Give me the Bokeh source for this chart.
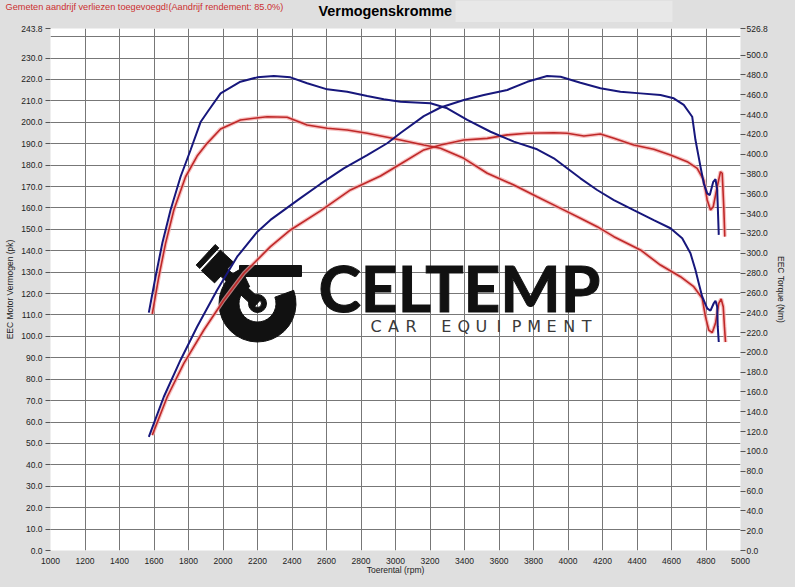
from bokeh.plotting import figure
from bokeh.layouts import column
from bokeh.models import Range1d, LinearAxis, FixedTicker, PrintfTickFormatter
from bokeh.core.properties import value
from bokeh.embed import file_html
from bokeh.resources import INLINE

# ---------------- data ----------------
# Blue torque curve (Nm, right axis)
rpm_tq_blue = [1570, 1609, 1648, 1696, 1754, 1812, 1870, 1918, 1986, 2101, 2198, 2295, 2391, 2488, 2604,
               2720, 2836, 2932, 3029, 3203, 3300, 3416, 3551, 3686, 3821, 3918, 3995, 4072, 4169, 4266,
               4381, 4497, 4594, 4662, 4710, 4739, 4758, 4778, 4807, 4826, 4845, 4855, 4865, 4868, 4874]
nm_tq_blue = [240.0, 276.3, 310.0, 343.6, 377.2, 404.2, 432.4, 444.5, 461.4, 473.1, 477.5, 478.9, 477.5, 471.5, 465.4,
              463.0, 458.7, 455.3, 452.9, 451.3, 446.3, 434.5, 422.6, 412.6, 404.9, 395.8, 385.7, 375.6, 363.8, 353.7,
              343.6, 333.5, 325.2, 315.1, 299.9, 283.1, 269.7, 256.1, 244.4, 242.0, 249.5, 252.1, 246.0, 225.9, 210.4]

# Red torque curve (Nm, right axis)
rpm_tq_red = [1590, 1628, 1667, 1715, 1783, 1850, 1908, 1986, 2101, 2256, 2372, 2488, 2604, 2720, 2836,
              2952, 3029, 3164, 3261, 3396, 3532, 3686, 3821, 3957, 4072, 4169, 4266, 4420, 4536, 4652,
              4729, 4778, 4797, 4816, 4836, 4855, 4874, 4888, 4900, 4907, 4913]
nm_tq_red = [238.7, 276.3, 310.0, 343.6, 377.2, 398.1, 410.9, 425.4, 434.5, 437.8, 437.2, 429.4, 426.1, 424.4, 421.0,
             417.0, 414.3, 409.2, 405.9, 395.8, 380.7, 368.9, 357.0, 345.3, 335.3, 326.8, 316.7, 303.3, 288.1, 276.3,
             266.2, 254.5, 236.0, 222.5, 219.8, 229.3, 249.5, 253.8, 246.0, 225.9, 210.4]

# Blue power curve (pk, left axis)
rpm_pw_blue = [1570, 1657, 1754, 1850, 1966, 2082, 2198, 2275, 2449, 2565, 2700, 2836, 2952, 3029, 3164,
               3261, 3396, 3512, 3648, 3764, 3879, 3957, 4072, 4188, 4304, 4420, 4536, 4613, 4671, 4720,
               4739, 4768, 4787, 4807, 4822, 4842, 4855, 4865, 4874]
pk_pw_blue = [53.1, 71.8, 89.0, 104.5, 121.7, 137.2, 148.8, 154.4, 164.6, 171.2, 178.5, 184.7, 190.2, 195.0, 202.9,
              206.9, 210.4, 212.7, 215.1, 218.9, 221.6, 221.3, 218.5, 215.9, 214.3, 213.5, 212.7, 211.2, 208.1, 202.6,
              191.7, 179.3, 171.5, 166.8, 166.0, 172.2, 173.4, 168.4, 147.4]

# Red power curve (pk, left axis)
rpm_pw_red = [1590, 1677, 1773, 1889, 2005, 2121, 2275, 2391, 2565, 2739, 2913, 3029, 3164, 3261, 3396,
              3532, 3648, 3764, 3918, 3995, 4092, 4188, 4266, 4381, 4497, 4594, 4691, 4749, 4787, 4807,
              4826, 4842, 4865, 4884, 4894, 4903, 4909]
pk_pw_red = [53.9, 71.8, 87.4, 103.0, 117.0, 129.5, 141.9, 149.7, 158.6, 168.4, 174.9, 180.5, 187.1, 189.4, 191.7,
             192.5, 194.1, 194.9, 195.1, 194.9, 193.6, 194.5, 192.5, 189.4, 187.4, 184.7, 181.6, 178.5, 173.0, 163.7,
             159.0, 160.6, 169.9, 176.9, 176.2, 160.6, 146.6]

# ticks
rpm_ticks = list(range(1000, 5001, 200))
pk_grid = list(range(0, 241, 10))
pk_ticks = [float(v) for v in range(0, 231, 10)] + [243.8]
nm_ticks = [float(v) for v in range(0, 501, 20)] + [526.8]

TITLE = "Vermogenskromme"
SUBTITLE = "Gemeten aandrijf verliezen toegevoegd!(Aandrijf rendement: 85.0%)"

# ---------------- styling ----------------
BG = "#dfdfdf"
BLUE = "#17177c"
RED = "#bf2828"
HALO = "#f3a7a7"
GRID = "#777777"
FONT = "Liberation Sans"

W = 795
HEAD_H = 22                 # header strip with title and note
H = 565                     # chart below it
FL, FR, FT, FB = 50, 55, 6, 37

# ---------------- header strip ----------------
t = figure(width=W, height=HEAD_H, x_range=Range1d(0, W), y_range=Range1d(HEAD_H, 0),
           output_backend="svg", toolbar_location=None, title_location=None,
           x_axis_location=None, y_axis_location=None, min_border=0,
           background_fill_color=BG, border_fill_color=BG, outline_line_color=None)
t.grid.visible = False
t.quad(left=[455], right=[672], top=[0], bottom=[HEAD_H], color="#e8e8e8", line_color=None)
t.text(x=[318], y=[10], text=[TITLE], text_font=value(FONT), text_font_style="bold",
       text_font_size="14.4px", text_color="black", text_align="left", text_baseline="middle")
t.text(x=[5], y=[6], text=[SUBTITLE], text_font=value(FONT), text_font_size="9.2px",
       text_color="#cc2f2f", text_align="left", text_baseline="middle")

# ---------------- chart ----------------
p = figure(width=W, height=H, x_range=Range1d(1000, 5000), y_range=Range1d(0, 243.8),
           output_backend="svg", toolbar_location=None, title_location=None,
           min_border_left=FL, min_border_right=FR, min_border_top=FT, min_border_bottom=FB,
           background_fill_color="white", border_fill_color=BG, outline_line_color=None)
p.extra_y_ranges = {"nm": Range1d(0, 526.8)}

# do not align the header's frame with the chart's frame
for fig in (t, p):
    try:
        fig.frame_align = False
    except Exception:
        pass

# helpers to place the logo (page pixel -> data position); frame spans x 50..740, y 28..550
def px_x(px):
    return 1000 + (px - FL) * 4000.0 / (W - FL - FR)

def px_y(py):
    return (550 - py) * 243.8 / 522

# grid
p.xgrid.ticker = FixedTicker(ticks=rpm_ticks)
p.ygrid.ticker = FixedTicker(ticks=pk_grid)
for g in (p.xgrid[0], p.ygrid[0]):
    g.grid_line_color = GRID
    g.grid_line_width = 1
    g.grid_line_alpha = 1.0

# x axis
xa = p.below[0]
xa.ticker = FixedTicker(ticks=rpm_ticks)
xa.axis_label = "Toerental (rpm)"
xa.axis_line_color = None
xa.major_tick_line_color = None
xa.minor_tick_line_color = None
xa.major_tick_out = 0
xa.major_tick_in = 0
xa.major_label_standoff = 7
xa.axis_label_standoff = -2

# left axis
ya = p.left[0]
ya.ticker = FixedTicker(ticks=pk_ticks)
ya.formatter = PrintfTickFormatter(format="%.1f")
ya.axis_label = "EEC Motor Vermogen (pk)"
ya.major_label_standoff = 3
ya.axis_label_standoff = 3

# right axis
ra = LinearAxis(y_range_name="nm", ticker=FixedTicker(ticks=nm_ticks),
                formatter=PrintfTickFormatter(format="%.1f"), axis_label="EEC Torque (Nm)")
ra.major_label_standoff = 1
ra.axis_label_standoff = 5
p.add_layout(ra, "right")

for ax in (ya, ra):
    ax.axis_line_color = None
    ax.major_tick_line_color = "#555555"
    ax.major_tick_out = 5
    ax.major_tick_in = 0
    ax.minor_tick_line_color = None

for ax in (xa, ya, ra):
    ax.major_label_text_font = FONT
    ax.major_label_text_font_size = "8.5px"
    ax.major_label_text_color = "#222222"
    ax.axis_label_text_font = FONT
    ax.axis_label_text_font_size = "8.5px"
    ax.axis_label_text_font_style = "normal"
    ax.axis_label_text_color = "#222222"

# ---------------- CELTEMP logo (watermark) ----------------
INK = "#111111"
cx, cy = 257, 303
p.annular_wedge(x=[px_x(cx)], y=[px_y(cy)], inner_radius=18.5, outer_radius=38.5,
                inner_radius_units="screen", outer_radius_units="screen",
                start_angle=115, end_angle=20, start_angle_units="deg", end_angle_units="deg",
                direction="anticlock", color=INK)
p.rect(x=[px_x(270)], y=[px_y(270.5)], width=62, height=11,
       width_units="screen", height_units="screen", color=INK)
p.annular_wedge(x=[px_x(cx)], y=[px_y(cy)], inner_radius=4, outer_radius=9,
                inner_radius_units="screen", outer_radius_units="screen",
                start_angle=0, end_angle=360, start_angle_units="deg", end_angle_units="deg", color=INK)
ang = -0.747
p.rect(x=[px_x(237)], y=[px_y(284.5)], width=54, height=10, angle=ang,
       width_units="screen", height_units="screen", color=INK)
p.rect(x=[px_x(217)], y=[px_y(266)], width=18, height=28, angle=ang,
       width_units="screen", height_units="screen", color=INK)
p.rect(x=[px_x(207)], y=[px_y(256)], width=5, height=28, angle=ang,
       width_units="screen", height_units="screen", color=INK)
p.text(x=[px_x(318)], y=[px_y(287)], text=["CELTEMP"], text_font=value("Lato"),
       text_font_style="bold", text_font_size="64px", text_color=INK, text_outline_color=INK,
       text_align="left", text_baseline="alphabetic")
sub = "CAR EQUIPMENT"
step = (595 - 366.7) / len(sub)
lx = [px_x(366.7 + step * (i + 0.5)) for i, ch in enumerate(sub) if ch != " "]
lt = [ch for ch in sub if ch != " "]
p.text(x=lx, y=[px_y(326)] * len(lt), text=lt, text_font=value("DejaVu Sans"),
       text_font_size="16px", text_color="#3a3a3a", text_align="center", text_baseline="alphabetic")

# ---------------- curves ----------------
p.line(rpm_pw_red, pk_pw_red, line_color=HALO, line_width=4, line_alpha=0.7)
p.line(rpm_tq_red, nm_tq_red, y_range_name="nm", line_color=HALO, line_width=4, line_alpha=0.7)
p.line(rpm_pw_red, pk_pw_red, line_color=RED, line_width=1.6)
p.line(rpm_tq_red, nm_tq_red, y_range_name="nm", line_color=RED, line_width=1.6)
p.line(rpm_pw_blue, pk_pw_blue, line_color=BLUE, line_width=2)
p.line(rpm_tq_blue, nm_tq_blue, y_range_name="nm", line_color=BLUE, line_width=2)

layout = column(t, p, spacing=0)
html = file_html(layout, INLINE)
html = html.replace("</head>", "<style>html,body{margin:0 !important;padding:0;overflow:hidden;background:%s;}</style></head>" % BG, 1)
open("out.html", "w").write(html)
